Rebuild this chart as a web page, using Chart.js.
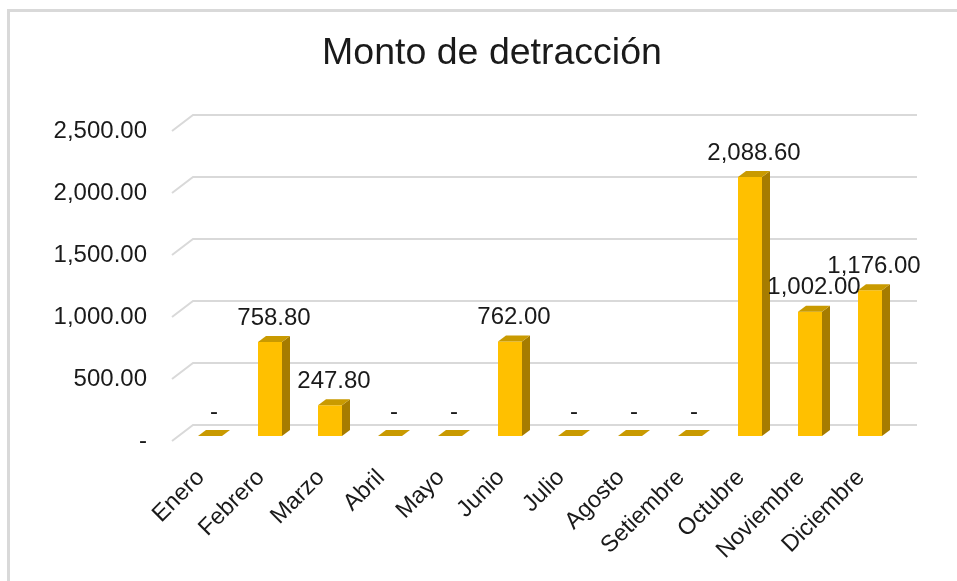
<!DOCTYPE html>
<html lang="es">
<head>
    <meta charset="UTF-8">
    <title>Monto de detracción</title>
    <script src="https://cdn.jsdelivr.net/npm/chart.js"></script>
    <style>
        body { margin: 0; background: #fff; }
        #frame { position: absolute; left: 7px; top: 9px; width: 980px; height: 600px; border: 3px solid #d9d9d9; box-sizing: border-box; }
        #chart { position: absolute; left: 0; top: 0; }
    </style>
</head>
<body>
    <div id="frame"></div>
    <canvas id="chart" width="957" height="581"></canvas>

    <script>
        // datos
        const meses = ['Enero', 'Febrero', 'Marzo', 'Abril', 'Mayo', 'Junio', 'Julio',
            'Agosto', 'Setiembre', 'Octubre', 'Noviembre', 'Diciembre'];
        const montos = [0, 758.80, 247.80, 0, 0, 762.00, 0, 0, 0, 2088.60, 1002.00, 1176.00];
        const ejeMax = 2500;
        const ejePaso = 500;

        const textColor = '#1a1a1a';
        const fuente = '"Liberation Sans", Arial, sans-serif';
        const fmt = v => v === 0 ? '-' : v.toLocaleString('en-US', { minimumFractionDigits: 2, maximumFractionDigits: 2 });

        // profundidad del efecto 3D
        const DX = 8, DY = 6;

        // lineas de fondo (estilo grafico 3D de Excel)
        const backWall = {
            id: 'backWall',
            beforeDatasetsDraw(chart) {
                const { ctx, scales: { x, y } } = chart;
                ctx.save();
                ctx.strokeStyle = '#d9d9d9';
                ctx.lineWidth = 2;
                for (let v = 0; v <= ejeMax; v += ejePaso) {
                    const py = y.getPixelForValue(v);
                    ctx.beginPath();
                    ctx.moveTo(x.left - 8, py + 5);
                    ctx.lineTo(x.left + 13, py - 11);
                    ctx.lineTo(x.right + 17, py - 11);
                    ctx.stroke();
                }
                ctx.restore();
            }
        };

        // caras laterales/superiores y etiquetas de datos
        const bars3d = {
            id: 'bars3d',
            afterDatasetsDraw(chart) {
                const { ctx } = chart;
                const meta = chart.getDatasetMeta(0);
                ctx.save();
                meta.data.forEach((bar, i) => {
                    const { x, y, base, width } = bar.getProps(['x', 'y', 'base', 'width'], true);
                    const l = x - width / 2, r = x + width / 2;
                    // cara lateral
                    if (base - y > 0) {
                        ctx.fillStyle = '#a67c00';
                        ctx.beginPath();
                        ctx.moveTo(r, y);
                        ctx.lineTo(r + DX, y - DY);
                        ctx.lineTo(r + DX, base - DY);
                        ctx.lineTo(r, base);
                        ctx.closePath();
                        ctx.fill();
                    }
                    // cara superior
                    ctx.fillStyle = '#c99a00';
                    ctx.beginPath();
                    ctx.moveTo(l, y);
                    ctx.lineTo(r, y);
                    ctx.lineTo(r + DX, y - DY);
                    ctx.lineTo(l + DX, y - DY);
                    ctx.closePath();
                    ctx.fill();

                    // etiqueta
                    ctx.fillStyle = textColor;
                    ctx.font = '24px ' + fuente;
                    ctx.textAlign = 'center';
                    ctx.textBaseline = 'middle';
                    ctx.fillText(fmt(montos[i]), x + 4, y - 24);
                });
                ctx.restore();
            }
        };

        const ctx = document.getElementById('chart').getContext('2d');
        new Chart(ctx, {
            type: 'bar',
            data: {
                labels: meses,
                datasets: [{
                    label: 'Monto de detracción',
                    data: montos,
                    backgroundColor: '#ffc000',
                    borderWidth: 0,
                    categoryPercentage: 1,
                    barPercentage: 0.4
                }]
            },
            options: {
                responsive: false,
                animation: false,
                layout: { padding: { left: 27, right: 0, top: 0, bottom: 0 } },
                plugins: {
                    legend: { display: false },
                    tooltip: { enabled: false },
                    title: {
                        display: true,
                        text: 'Monto de detracción',
                        color: textColor,
                        font: { family: fuente, size: 37.5, weight: 'normal' },
                        padding: { top: 31, bottom: 50 }
                    }
                },
                scales: {
                    x: {
                        grid: { display: false, drawTicks: false },
                        border: { display: false },
                        ticks: {
                            color: textColor,
                            font: { family: fuente, size: 23.5 },
                            minRotation: 45,
                            maxRotation: 45,
                            autoSkip: false,
                            padding: 28,
                            labelOffset: -9
                        },
                        afterFit(scale) { scale.height = 145; }
                    },
                    y: {
                        min: 0,
                        max: ejeMax,
                        grid: { display: false, drawTicks: false },
                        border: { display: false },
                        ticks: {
                            stepSize: ejePaso,
                            color: textColor,
                            font: { family: fuente, size: 24 },
                            padding: 33,
                            labelOffset: 5,
                            callback: v => fmt(v)
                        },
                        afterFit(scale) { scale.width = 153; }
                    },
                    // eje vacio a la derecha, solo reserva espacio
                    yDer: {
                        position: 'right',
                        min: 0,
                        max: ejeMax,
                        grid: { display: false, drawTicks: false },
                        border: { display: false },
                        ticks: { display: false },
                        afterFit(scale) { scale.width = 57; }
                    }
                }
            },
            plugins: [backWall, bars3d]
        });
    </script>
</body>
</html>
